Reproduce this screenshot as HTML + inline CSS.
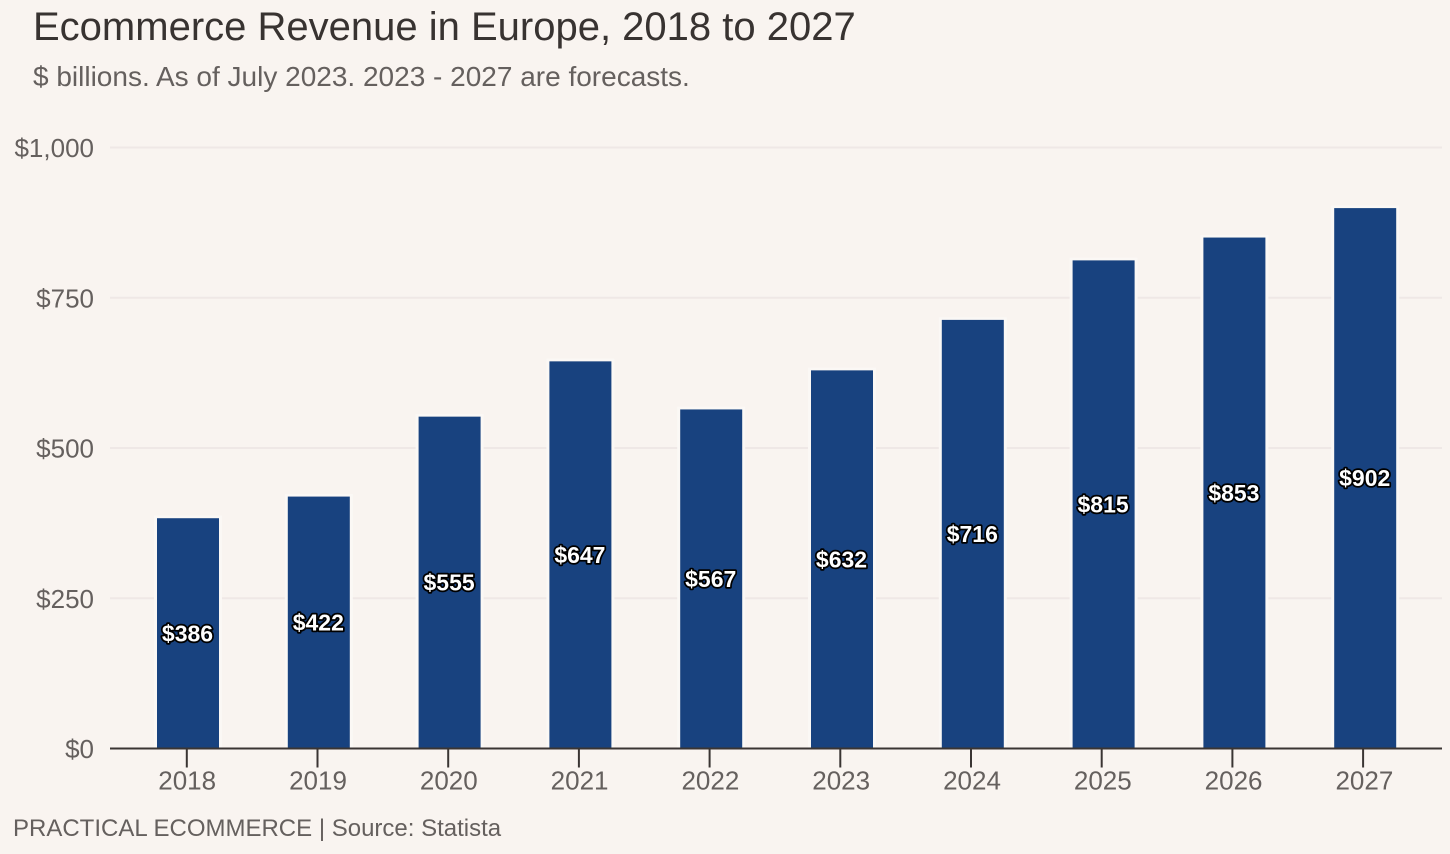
<!DOCTYPE html>
<html lang="en">
<head>
<meta charset="utf-8">
<title>Ecommerce Revenue in Europe, 2018 to 2027</title>
<style>
html,body{margin:0;padding:0;background:#f9f4f0;}
svg{display:block;font-family:"Liberation Sans",Arial,sans-serif;}
</style>
</head>
<body>
<svg id="chart" width="1450" height="854" viewBox="0 0 1450 854" xmlns="http://www.w3.org/2000/svg">
<rect x="0" y="0" width="1450" height="854" fill="#f9f4f0"/>
<text x="33" y="40" font-size="40" fill="#383331">Ecommerce Revenue in Europe, 2018 to 2027</text>
<text x="33" y="86" font-size="28" fill="#65605e">$ billions. As of July 2023. 2023 - 2027 are forecasts.</text>
<g id="grid"></g>
<g id="y-axis"></g>
<g id="bars"></g>
<g id="x-axis"></g>
<g id="labels"></g>
<text x="13" y="836" font-size="24" fill="#65605e">PRACTICAL ECOMMERCE | Source: Statista</text>
</svg>
<script>
var categories = ['2018','2019','2020','2021','2022','2023','2024','2025','2026','2027'];
var revenue = [386,422,555,647,567,632,716,815,853,902];
var yTicks = [0,250,500,750,1000];
var yTickLabels = ['$0','$250','$500','$750','$1,000'];

var NS = 'http://www.w3.org/2000/svg';
function yScale(v){ return 748.5 - v * 0.601; }
function xBar(i){ return 188 + i * 130.8; }
function xTick(i){ return 186.8 + i * 130.7; }
function make(tag, attrs, parent){
  var el = document.createElementNS(NS, tag);
  for (var k in attrs) el.setAttribute(k, attrs[k]);
  parent.appendChild(el);
  return el;
}
var grid = document.getElementById('grid');
var yAxis = document.getElementById('y-axis');
var bars = document.getElementById('bars');
var xAxis = document.getElementById('x-axis');
var labels = document.getElementById('labels');

yTicks.forEach(function(t, i){
  if (t !== 0) {
    var line = make('line', {x1:110, x2:1442, y1:yScale(t), y2:yScale(t), stroke:'#efe8e6', 'stroke-width':2}, grid);
    
    
  }
  var lab = make('text', {x:94, y:yScale(t)+9.5, 'text-anchor':'end', 'font-size':26, fill:'#65605e'}, yAxis);
  lab.textContent = yTickLabels[i];
  
  
});

categories.forEach(function(c, i){
  var top = yScale(revenue[i]);
  var halo = make('rect', {x:xBar(i)-34, y:top-1, width:68, height:yScale(0)-top+1, fill:'#fbf8f5'}, bars);
  
  
  var bar = make('rect', {x:xBar(i)-31, y:top+1.7, width:62, height:yScale(0)-top-1.7, fill:'#18427f'}, bars);
  
  

  var tick = make('line', {x1:xTick(i), x2:xTick(i), y1:yScale(0), y2:yScale(0)+19, stroke:'#3a3533', 'stroke-width':2}, xAxis);
  
  
  var tl = make('text', {x:xBar(i)-0.8, y:789.5, 'text-anchor':'middle', 'font-size':26, fill:'#65605e'}, xAxis);
  tl.textContent = c;
  
  

  var val = make('text', {x:xBar(i)-0.5, y:yScale(revenue[i]/2)+8.8, 'text-anchor':'middle', 'font-size':23, 'font-weight':'bold', fill:'#ffffff', stroke:'#000000', 'stroke-width':3.5, 'stroke-linejoin':'round', 'paint-order':'stroke'}, labels);
  val.textContent = '$' + revenue[i];
  
  
});
var axisLine = make('line', {x1:110, x2:1442, y1:yScale(0), y2:yScale(0), stroke:'#3a3533', 'stroke-width':2}, xAxis);


</script>
</body>
</html>
